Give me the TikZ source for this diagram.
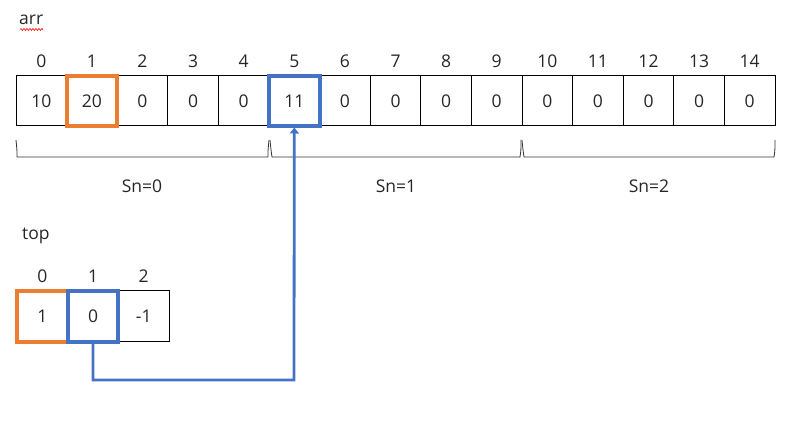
\documentclass[tikz,border=0pt]{standalone}
\usepackage{fontspec}
\setmainfont{Open Sans}
\usetikzlibrary{arrows.meta,decorations.pathmorphing}
\definecolor{orng}{HTML}{ED7D31}
\definecolor{blu}{HTML}{4472C4}
\definecolor{txt}{HTML}{262626}
\tikzset{
  cell/.style={draw=black, line width=1pt, minimum width=50.6pt, minimum height=50pt, inner sep=0pt, font=\fontsize{17.5}{20}\selectfont, text=txt},
  tcell/.style={cell, minimum width=50.7pt, minimum height=51pt},
  idx/.style={font=\fontsize{17.5}{20}\selectfont, text=txt, inner sep=0pt},
  hlo/.style={draw=orng, line width=4pt, fill=none},
  hlb/.style={draw=blu, line width=4pt, fill=none},
  brk/.style={draw=black!80, line width=0.8pt},
  link/.style={draw=blu, line width=2.8pt, -{Triangle[length=6pt,width=9pt]}, shorten >=1.5pt},
}
\begin{document}
\begin{tikzpicture}[x=1pt,y=-1pt]
\useasboundingbox (0,0) rectangle (796,422);
% label arr
\node[idx, anchor=west] (arrlbl) at (19,20) {arr};
\draw[red, line width=0.6pt, decorate, decoration={snake, amplitude=1pt, segment length=3pt}] (20,29.5) -- (43,29.5);
% arr cells
\foreach \i/\v in {0/10,1/20,2/0,3/0,4/0,5/11,6/0,7/0,8/0,9/0,10/0,11/0,12/0,13/0,14/0}{
  \node[cell] (a\i) at ({16+50.6*(\i+0.5)},101) {\v};
  \node[idx] (ai\i) at ({16+50.6*(\i+0.5)},61) {\i};
}
\node[cell, hlo] (h1) at (a1) {};
\node[cell, hlb] (h5) at (a5) {};
% brackets
\draw[brk] (16,140) .. controls (17,150) .. (17,157) -- (268,157) .. controls (268,150) .. (269,140);
\draw[brk] (270,140) .. controls (271,150) .. (272,157) -- (520,157) .. controls (521,150) .. (521,140);
\draw[brk] (522,140) .. controls (523,150) .. (524,157) -- (774,157) .. controls (775,150) .. (775,140);
\node[idx] (sn0) at (142,186) {Sn=0};
\node[idx] (sn1) at (396,186) {Sn=1};
\node[idx] (sn2) at (649,186) {Sn=2};
% top
\node[idx, anchor=west] (toplbl) at (22,236) {top};
\foreach \i/\v in {0/1,1/0,2/-1}{
  \node[tcell] (t\i) at ({17+50.7*(\i+0.5)},316.5) {\v};
  \node[idx] (ti\i) at ({17+50.7*(\i+0.5)},276) {\i};
}
\node[tcell, hlo] (g0) at (t0) {};
\node[tcell, hlb] (g1) at (t1) {};
% link
\coordinate (corner) at (294,380);
\draw[link] (g1.south) |- (corner) -- ([yshift=2pt]h5.south);
\end{tikzpicture}
\end{document}
